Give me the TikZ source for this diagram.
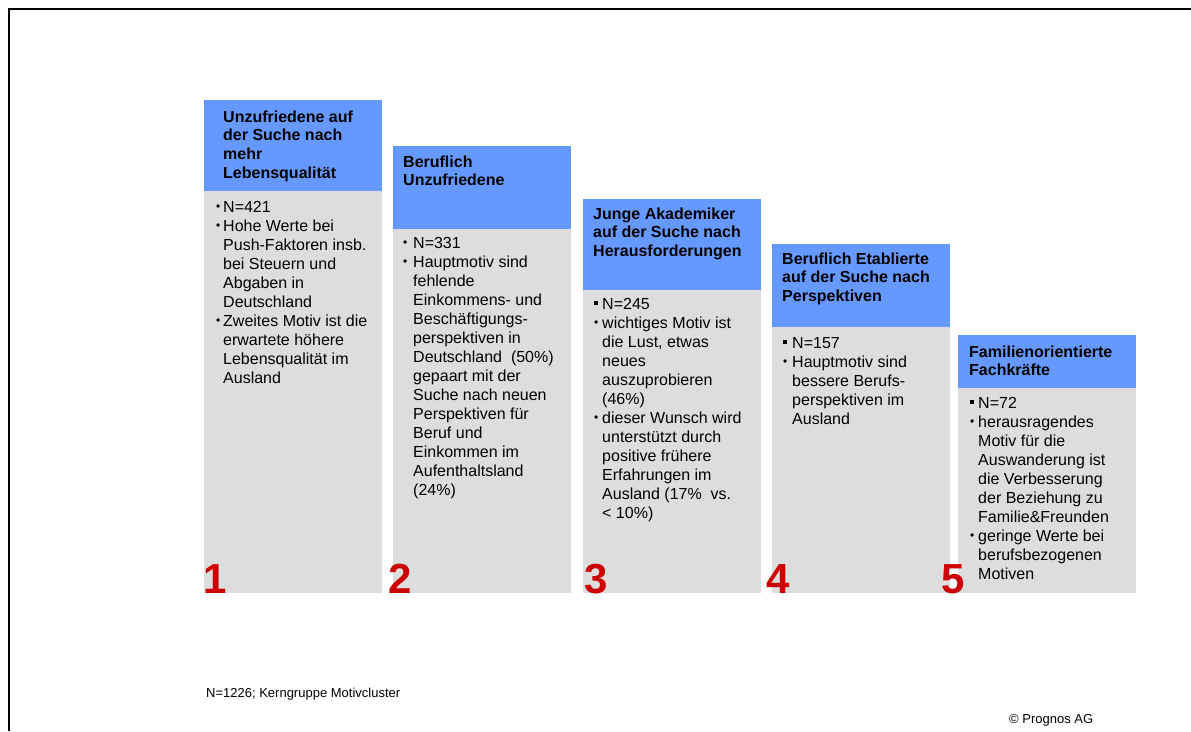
\documentclass[tikz,border=0pt]{standalone}
\usepackage{fontspec}
\setmainfont{Liberation Sans}
\definecolor{hblue}{HTML}{6699FF}
\definecolor{bgray}{HTML}{DDDDDD}
\definecolor{nred}{HTML}{CC0000}
\newcommand\hfnt{\fontsize{16}{18.7}\selectfont\bfseries}
\newcommand\bfnt{\fontsize{16}{19}\selectfont}
\newcommand\bl[1]{\llap{\makebox[#1][l]{\raisebox{1.5pt}{\fontsize{12}{12}\selectfont •}}}}
\newcommand\sq[1]{\llap{\makebox[#1][l]{\raisebox{4.3pt}{\rule{3.6pt}{3.6pt}}}}}
\tikzset{
  hbox/.style={fill=hblue, draw=none, anchor=north west, inner sep=0, minimum width=178, outer sep=0},
  gbox/.style={fill=bgray, draw=none, anchor=north west, inner sep=0, minimum width=178, outer sep=0},
  htext/.style={anchor=north west, inner sep=0, align=left, font=\hfnt},
  btext/.style={anchor=north west, inner sep=0, align=left, font=\bfnt},
  num/.style={anchor=base west, inner sep=0, text=nred, font=\fontsize{42}{42}\selectfont\bfseries},
  foot/.style={anchor=base west, inner sep=0, font=\fontsize{13}{15}\selectfont}
}
\begin{document}
\begin{tikzpicture}[x=1pt,y=-1pt]
\useasboundingbox (0,0) rectangle (1191,731);
\draw[line width=2, line join=miter] (9,731) -- (9,9) -- (1191,9);

% column boxes
\node[gbox, minimum height=402] (g1) at (204,191) {};
\node[hbox, minimum height=91] (h1) at (204,100) {};
\node[gbox, minimum height=364] (g2) at (393,229) {};
\node[hbox, minimum height=83] (h2) at (393,146) {};
\node[gbox, minimum height=303] (g3) at (583,290) {};
\node[hbox, minimum height=91] (h3) at (583,199) {};
\node[gbox, minimum height=266] (g4) at (772,327) {};
\node[hbox, minimum height=83] (h4) at (772,244) {};
\node[gbox, minimum height=205] (g5) at (958,388) {};
\node[hbox, minimum height=53] (h5) at (958,335) {};

% headers
\node[htext] (t1) at (223,108.9) {\strut Unzufriedene auf\\der Suche nach\\mehr\\Lebensqualität};
\node[htext] (t2) at (403,153.9) {\strut Beruflich\\Unzufriedene};
\node[htext] (t3) at (593,205.9) {\strut Junge Akademiker\\auf der Suche nach\\Herausforderungen};
\node[htext] (t4) at (782,250.9) {\strut Beruflich Etablierte\\auf der Suche nach\\Perspektiven};
\node[htext] (t5) at (969,343.9) {\strut Familienorientierte\\Fachkräfte};

% bodies
\node[btext] (b1) at (223,198.7) {\strut\bl{7pt}N=421\\\bl{7pt}Hohe Werte bei\\Push-Faktoren insb.\\bei Steuern und\\Abgaben in\\Deutschland\\\bl{7pt}Zweites Motiv ist die\\erwartete höhere\\Lebensqualität im\\Ausland};
\node[btext] (b2) at (413,234.7) {\strut\bl{10pt}N=331\\\bl{10pt}Hauptmotiv sind\\fehlende\\Einkommens- und\\Beschäftigungs-\\perspektiven in\\Deutschland\ \ (50\%)\\gepaart mit der\\Suche nach neuen\\Perspektiven für\\Beruf und\\Einkommen im\\Aufenthaltsland\\(24\%)};
\node[btext] (b3) at (602,295.7) {\strut\sq{8pt}N=245\\\bl{8pt}wichtiges Motiv ist\\die Lust, etwas\\neues\\auszuprobieren\\(46\%)\\\bl{8pt}dieser Wunsch wird\\unterstützt durch\\positive frühere\\Erfahrungen im\\Ausland (17\%\ \ vs.\\< 10\%)};
\node[btext] (b4) at (792,334.7) {\strut\sq{9pt}N=157\\\bl{9pt}Hauptmotiv sind\\bessere Berufs-\\perspektiven im\\Ausland};
\node[btext] (b5) at (978,394.7) {\strut\sq{8pt}N=72\\\bl{8pt}herausragendes\\Motiv für die\\Auswanderung ist\\die Verbesserung\\der Beziehung zu\\Familie\&Freunden\\\bl{8pt}geringe Werte bei\\berufsbezogenen\\Motiven};

% numbers
\node[num] (n1) at (203,593) {1};
\node[num] (n2) at (388,593) {2};
\node[num] (n3) at (584,593) {3};
\node[num] (n4) at (766,593) {4};
\node[num] (n5) at (941,593) {5};

% footer
\node[foot] (f1) at (206,697) {N=1226; Kerngruppe Motivcluster};
\node[foot] (f2) at (1009,723) {© Prognos AG};
\end{tikzpicture}
\end{document}
